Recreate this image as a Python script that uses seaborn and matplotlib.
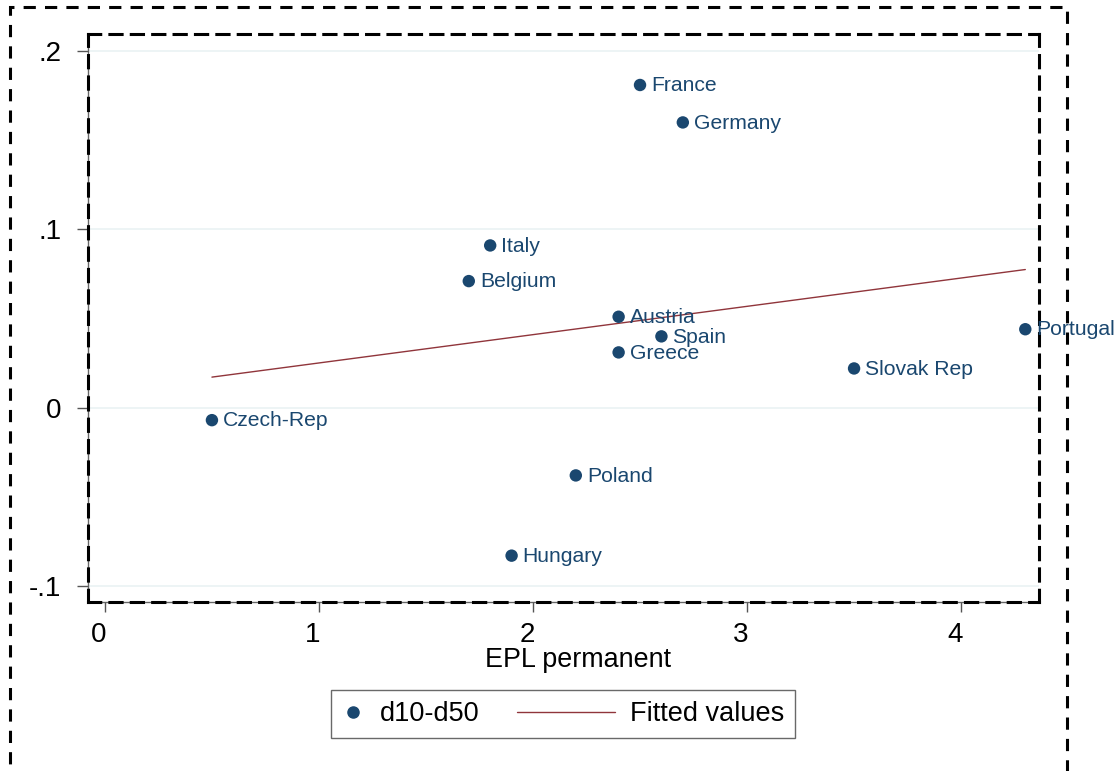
import matplotlib
matplotlib.use("Agg")
import matplotlib.pyplot as plt
import matplotlib.transforms as mtransforms
from matplotlib.patches import Rectangle
from matplotlib.lines import Line2D
from matplotlib.legend_handler import HandlerLine2D
import seaborn as sns
import pandas as pd

countries = ["France", "Germany", "Italy", "Belgium", "Austria", "Spain",
             "Greece", "Portugal", "Slovak Rep", "Czech-Rep", "Poland", "Hungary"]
epl_permanent = [2.5, 2.7, 1.8, 1.7, 2.4, 2.6, 2.4, 4.3, 3.5, 0.5, 2.2, 1.9]
d10_d50 = [0.181, 0.160, 0.091, 0.071, 0.051, 0.040, 0.031, 0.044, 0.022,
           -0.007, -0.038, -0.083]
x_ticks = [0, 1, 2, 3, 4]
y_ticks = [-0.1, 0, 0.1, 0.2]
y_tick_labels = ["-.1", "0", ".1", ".2"]

df = pd.DataFrame({"country": countries, "epl": epl_permanent, "gap": d10_d50})

NAVY = "#1a476f"
MAROON = "#90353b"
GRID = "#eaf2f3"

sns.set_theme(style="white")
plt.rcParams["font.family"] = ["Liberation Sans", "DejaVu Sans"]
plt.rcParams["text.color"] = "black"

fig = plt.figure(figsize=(11.17, 7.71), dpi=100)
ax = fig.add_axes([88 / 1117, 1 - 602 / 771, (1039 - 88) / 1117, (602 - 34) / 771])

for yt in y_ticks:
    ax.axhline(yt, color=GRID, lw=1.2, zorder=0)

sns.regplot(data=df, x="epl", y="gap", scatter=False, ci=None, truncate=True,
            line_kws={"color": MAROON, "lw": 1.0}, ax=ax)
sns.scatterplot(data=df, x="epl", y="gap", color=NAVY, s=80, edgecolor="none",
                ax=ax, zorder=3)

for name, xv, yv in zip(countries, epl_permanent, d10_d50):
    ax.annotate(name, (xv, yv), xytext=(8, -0.5), textcoords="offset points",
                va="center", ha="left", fontsize=15.2, color=NAVY, zorder=4,
                annotation_clip=False)

ax.set_xlim(-0.079, 4.364)
ax.set_ylim(-0.109, 0.2096)
ax.set_xticks(x_ticks)
ax.set_xticklabels([str(t) for t in x_ticks])
ax.set_yticks(y_ticks)
ax.set_yticklabels(y_tick_labels)
ax.tick_params(axis="both", which="major", labelsize=20, color="#555555",
               direction="out", width=1.0, labelcolor="black")
ax.tick_params(axis="y", length=8, pad=11, left=True)
ax.tick_params(axis="x", length=7.5, pad=7, bottom=True)

shift = mtransforms.ScaledTranslation(-6 / 100, 0, fig.dpi_scale_trans)
for lbl in ax.get_xticklabels():
    lbl.set_transform(lbl.get_transform() + shift)

ax.set_xlabel("EPL permanent", fontsize=19.4, color="black")
ax.set_ylabel("")
ax.xaxis.set_label_coords((578 - 88) / (1039 - 88), -(660 - 602) / (602 - 34))
ax.xaxis.label.set_va("center")

# plot-region outline dashed, axis lines solid grey beneath
for side in ["top", "bottom", "left", "right"]:
    ax.spines[side].set_visible(True)
    ax.spines[side].set_color("black")
    ax.spines[side].set_linewidth(2.2)
    ax.spines[side].set_linestyle((0, (4, 3)))
ax.plot([0, 0], [0, 1], transform=ax.transAxes, color="#666666", lw=1.0,
        zorder=0, clip_on=False)
ax.plot([0, 1], [0, 0], transform=ax.transAxes, color="#666666", lw=1.0,
        zorder=0, clip_on=False)

# outer graph-region outline
outer = Rectangle((10 / 1117, -0.05), (1067 - 10) / 1117, 1 - 7 / 771 + 0.05,
                  transform=fig.transFigure, fill=False, edgecolor="black",
                  lw=2.2, linestyle=(0, (4, 3)))
fig.patches.append(outer)


class ShortHandler(HandlerLine2D):
    """Marker key drawn in a narrower slot than the line key."""

    def legend_artist(self, legend, orig_handle, fontsize, handlebox):
        handlebox.width = 0.85 * fontsize
        return super().legend_artist(legend, orig_handle, fontsize, handlebox)


marker_key = Line2D([], [], marker="o", color=NAVY, linestyle="none", markersize=8)
line_key = Line2D([], [], color=MAROON, lw=1.0)
leg = fig.legend([marker_key, line_key], ["d10-d50", "Fitted values"],
                 loc="center", bbox_to_anchor=(563 / 1117, 1 - 714 / 771), ncol=2,
                 fontsize=19.5, frameon=True, fancybox=False, edgecolor="#444444",
                 handlelength=3.6, columnspacing=1.4, handletextpad=0.55,
                 borderpad=0.4, borderaxespad=0.0, labelcolor="black",
                 handler_map={marker_key: ShortHandler()})
leg.get_frame().set_linewidth(1.0)

fig.savefig("out.png", dpi=100, facecolor="white")
